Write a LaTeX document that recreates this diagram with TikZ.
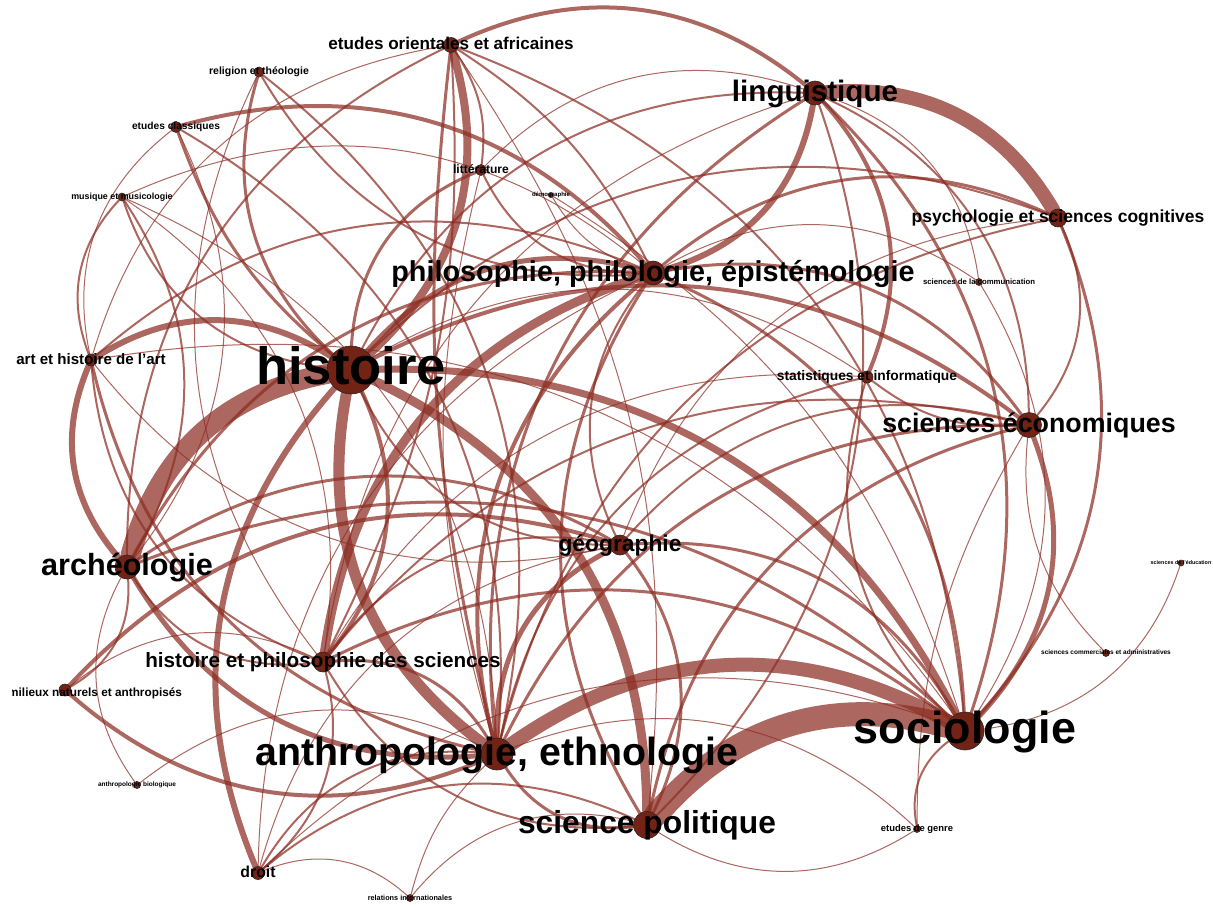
\documentclass[tikz,border=0pt]{standalone}
\usepackage{fontspec}
\setmainfont{Liberation Sans}
\pgfdeclarelayer{back}
\pgfdeclarelayer{edges}
\pgfsetlayers{back,edges,main}
\definecolor{edgecol}{RGB}{140,45,35}
\definecolor{nodecol}{RGB}{115,35,22}
\tikzset{
  vert/.style={circle,fill=nodecol,draw=black!85,line width=0.6pt,inner sep=0pt,minimum size=#1},
  lnk/.style={draw=edgecol,draw opacity=0.72,line cap=round},
  lbl/.style={font=\bfseries\fontsize{#1}{#1}\selectfont,anchor=base,inner sep=0pt,yshift={-0.28*#1pt}}
}
\newcommand\Vx[4]{\node[vert=#4pt] (#1) at (#2,#3) {};}
\newcommand\Lx[3]{\node[lbl=#2] (#1l) at (#1) {#3};}
\newcommand\Ed[4]{\draw[lnk,line width=#3pt] (#1) to[bend #4] (#2);}
\begin{document}
\begin{tikzpicture}[x=1pt,y=-1pt]
\useasboundingbox (0,0) rectangle (1213,907);
\begin{pgfonlayer}{back}
\fill[white] (0,0) rectangle (1213,907);
\end{pgfonlayer}
% nodes
\Vx{H}{351}{370}{48}
\Vx{SO}{965}{731}{38}
\Vx{AN}{497}{754}{32}
\Vx{SP}{647}{825}{27}
\Vx{PH}{653}{273}{24}
\Vx{LI}{815}{93}{24}
\Vx{AR}{127}{567}{24}
\Vx{EC}{1029}{425}{25}
\Vx{HS}{323}{662}{20}
\Vx{GE}{620}{545}{20}
\Vx{PS}{1058}{218}{18}
\Vx{EO}{451}{45}{15}
\Vx{AA}{91}{360}{12}
\Vx{ST}{867}{377}{12}
\Vx{DR}{258}{873}{13}
\Vx{RE}{259}{72}{10}
\Vx{CL}{176}{127}{11}
\Vx{MU}{122}{197}{8}
\Vx{LT}{481}{170}{11}
\Vx{DE}{551}{195}{5}
\Vx{MI}{65}{690}{12}
\Vx{SC}{1106}{653}{7}
\Vx{GN}{917}{829}{7}
\Vx{AB}{137}{785}{7}
\Vx{RI}{410}{898}{7}
\Vx{CO}{979}{282}{7}
\Vx{ED}{1181}{563}{6}
% edges
\begin{pgfonlayer}{edges}
\Ed{EO}{LI}{4}{left=32}
\Ed{CL}{PH}{4}{left=32}
\Ed{MI}{AN}{4}{right=32}
\Ed{MI}{GE}{4}{left=32}
\Ed{AN}{PH}{4}{left=32}
\Ed{LI}{ST}{4}{left=32}
\Ed{H}{EC}{4}{left=32}
\Ed{PH}{EC}{3}{left=32}
\Ed{PS}{PH}{3}{right=32}
\Ed{PS}{SO}{3}{left=32}
\Ed{HS}{SO}{3}{left=32}
\Ed{GE}{SO}{3}{left=32}
\Ed{GE}{SP}{3}{left=32}
\Ed{AN}{SP}{3}{right=32}
\Ed{HS}{AN}{3}{left=32}
\Ed{HS}{H}{4}{right=32}
\Ed{AR}{GE}{3}{left=32}
\Ed{AR}{PH}{3}{left=32}
\Ed{AR}{HS}{2}{right=32}
\Ed{AR}{SO}{3}{left=32}
\Ed{EO}{AN}{3}{right=10}
\Ed{EO}{PH}{2}{left=15}
\Ed{EO}{LT}{2}{left=20}
\Ed{EO}{SO}{2}{left=32}
\Ed{EO}{AR}{2}{right=32}
\Ed{EO}{AA}{1}{right=32}
\Ed{EO}{HS}{2}{left=15}
\Ed{EO}{SP}{1}{left=20}
\Ed{LT}{H}{3}{right=32}
\Ed{LT}{PH}{2}{right=32}
\Ed{LT}{LI}{1}{left=32}
\Ed{LT}{AN}{1}{right=15}
\Ed{DE}{PH}{1}{right=20}
\Ed{DE}{SO}{1}{left=20}
\Ed{LI}{EC}{2}{left=32}
\Ed{LI}{SO}{3}{left=32}
\Ed{AN}{LI}{3}{left=32}
\Ed{LI}{H}{2}{right=32}
\Ed{LI}{SP}{2}{left=32}
\Ed{LI}{HS}{1}{right=32}
\Ed{PS}{H}{2}{right=32}
\Ed{PS}{EC}{2}{left=32}
\Ed{PS}{AN}{2}{right=32}
\Ed{CO}{PH}{1}{right=32}
\Ed{CO}{SO}{1}{left=32}
\Ed{CO}{LI}{1}{right=32}
\Ed{ST}{SO}{2}{right=32}
\Ed{ST}{AN}{2}{right=32}
\Ed{ST}{HS}{1}{right=32}
\Ed{ST}{EC}{2}{right=20}
\Ed{ST}{H}{1}{right=32}
\Ed{EC}{AN}{3}{right=32}
\Ed{EC}{SP}{3}{right=32}
\Ed{EC}{GE}{2}{right=32}
\Ed{EC}{HS}{2}{right=32}
\Ed{EC}{GN}{1}{right=15}
\Ed{EC}{SC}{1}{right=25}
\Ed{ED}{SO}{1}{left=32}
\Ed{GN}{SO}{2}{left=32}
\Ed{GN}{SP}{1}{left=32}
\Ed{GN}{AN}{1}{right=32}
\Ed{SO}{PH}{3}{right=32}
\Ed{SP}{PH}{3}{left=32}
\Ed{SP}{HS}{2}{left=32}
\Ed{GE}{PH}{2}{left=32}
\Ed{GE}{H}{2}{left=32}
\Ed{GE}{HS}{2}{right=32}
\Ed{GE}{PS}{1}{left=32}
\Ed{DR}{AN}{2}{left=32}
\Ed{DR}{SP}{2}{left=32}
\Ed{DR}{HS}{2}{right=32}
\Ed{DR}{GE}{1}{left=32}
\Ed{DR}{SO}{1}{left=32}
\Ed{DR}{RI}{1}{left=32}
\Ed{DR}{PH}{1}{left=32}
\Ed{RI}{SP}{1}{left=32}
\Ed{RI}{AN}{1}{left=15}
\Ed{AB}{AR}{1}{left=32}
\Ed{AB}{AN}{1}{left=32}
\Ed{MI}{AR}{2}{right=32}
\Ed{MI}{HS}{1}{left=32}
\Ed{AA}{AN}{3}{right=32}
\Ed{AA}{HS}{2}{right=32}
\Ed{AA}{PH}{2}{left=32}
\Ed{AA}{SO}{1}{left=32}
\Ed{AA}{GE}{1}{right=32}
\Ed{MU}{AA}{2}{right=32}
\Ed{MU}{AR}{2}{left=32}
\Ed{MU}{H}{2}{right=32}
\Ed{MU}{HS}{1}{left=32}
\Ed{MU}{AN}{1}{left=32}
\Ed{MU}{PH}{1}{left=32}
\Ed{CL}{H}{3}{right=15}
\Ed{CL}{AA}{1}{right=32}
\Ed{CL}{AN}{2}{left=32}
\Ed{CL}{AR}{1}{left=32}
\Ed{RE}{H}{3}{right=32}
\Ed{RE}{AN}{2}{left=32}
\Ed{RE}{PH}{2}{right=32}
\Ed{RE}{HS}{1}{right=32}
% heavy edges
\Ed{H}{AR}{20}{right=32}
\Ed{SP}{SO}{24}{left=32}
\Ed{AN}{SO}{14}{left=32}
\Ed{LI}{PS}{14}{left=32}
\Ed{H}{AN}{11}{right=32}
\Ed{HS}{PH}{9}{left=32}
\Ed{H}{SP}{9}{left=32}
\Ed{EO}{H}{8}{left=32}
\Ed{H}{SO}{7}{left=32}
\Ed{AR}{AA}{6}{left=32}
\Ed{AA}{H}{6}{left=32}
\Ed{DR}{H}{6}{left=32}
\Ed{AR}{AN}{5}{right=32}
\Ed{LI}{PH}{6}{left=32}
\Ed{AN}{GE}{5}{left=32}
\Ed{EC}{SO}{5}{left=32}
\Ed{H}{PH}{5}{left=32}
\end{pgfonlayer}
% labels
\Lx{H}{52.6}{histoire}
\Lx{SO}{44.9}{sociologie}
\Lx{AN}{39.3}{anthropologie, ethnologie}
\Lx{SP}{31.8}{science politique}
\Lx{LI}{29.6}{linguistique}
\Lx{PH}{28.8}{philosophie, philologie, épistémologie}
\Lx{PS}{17.5}{psychologie et sciences cognitives}
\Lx{EC}{26.8}{sciences économiques}
\Lx{AR}{30.6}{archéologie}
\Lx{GE}{22.8}{géographie}
\Lx{HS}{20.7}{histoire et philosophie des sciences}
\Lx{EO}{17.1}{etudes orientales et africaines}
\Lx{AA}{15.1}{art et histoire de l'art}
\Lx{ST}{13.8}{statistiques et informatique}
\Lx{DR}{15.8}{droit}
\Lx{RE}{10.5}{religion et théologie}
\Lx{CL}{10.2}{etudes classiques}
\Lx{MU}{8.9}{musique et musicologie}
\Lx{LT}{12.1}{littérature}
\Lx{DE}{6.05}{démographie}
\Lx{CO}{7.75}{sciences de la communication}
\Lx{ED}{5.4}{sciences de l'éducation}
\Lx{SC}{6.5}{sciences commerciales et administratives}
\Lx{AB}{6.5}{anthropologie biologique}
\Lx{RI}{7.3}{relations internationales}
\Lx{GN}{9.4}{etudes de genre}
\begin{scope}
\clip (12,640) rectangle (400,740);
\node[lbl=11.8,anchor=base west,yshift=0pt] (MIl) at (8,693.3) {milieux naturels et anthropisés};
\end{scope}
\end{tikzpicture}
\end{document}
